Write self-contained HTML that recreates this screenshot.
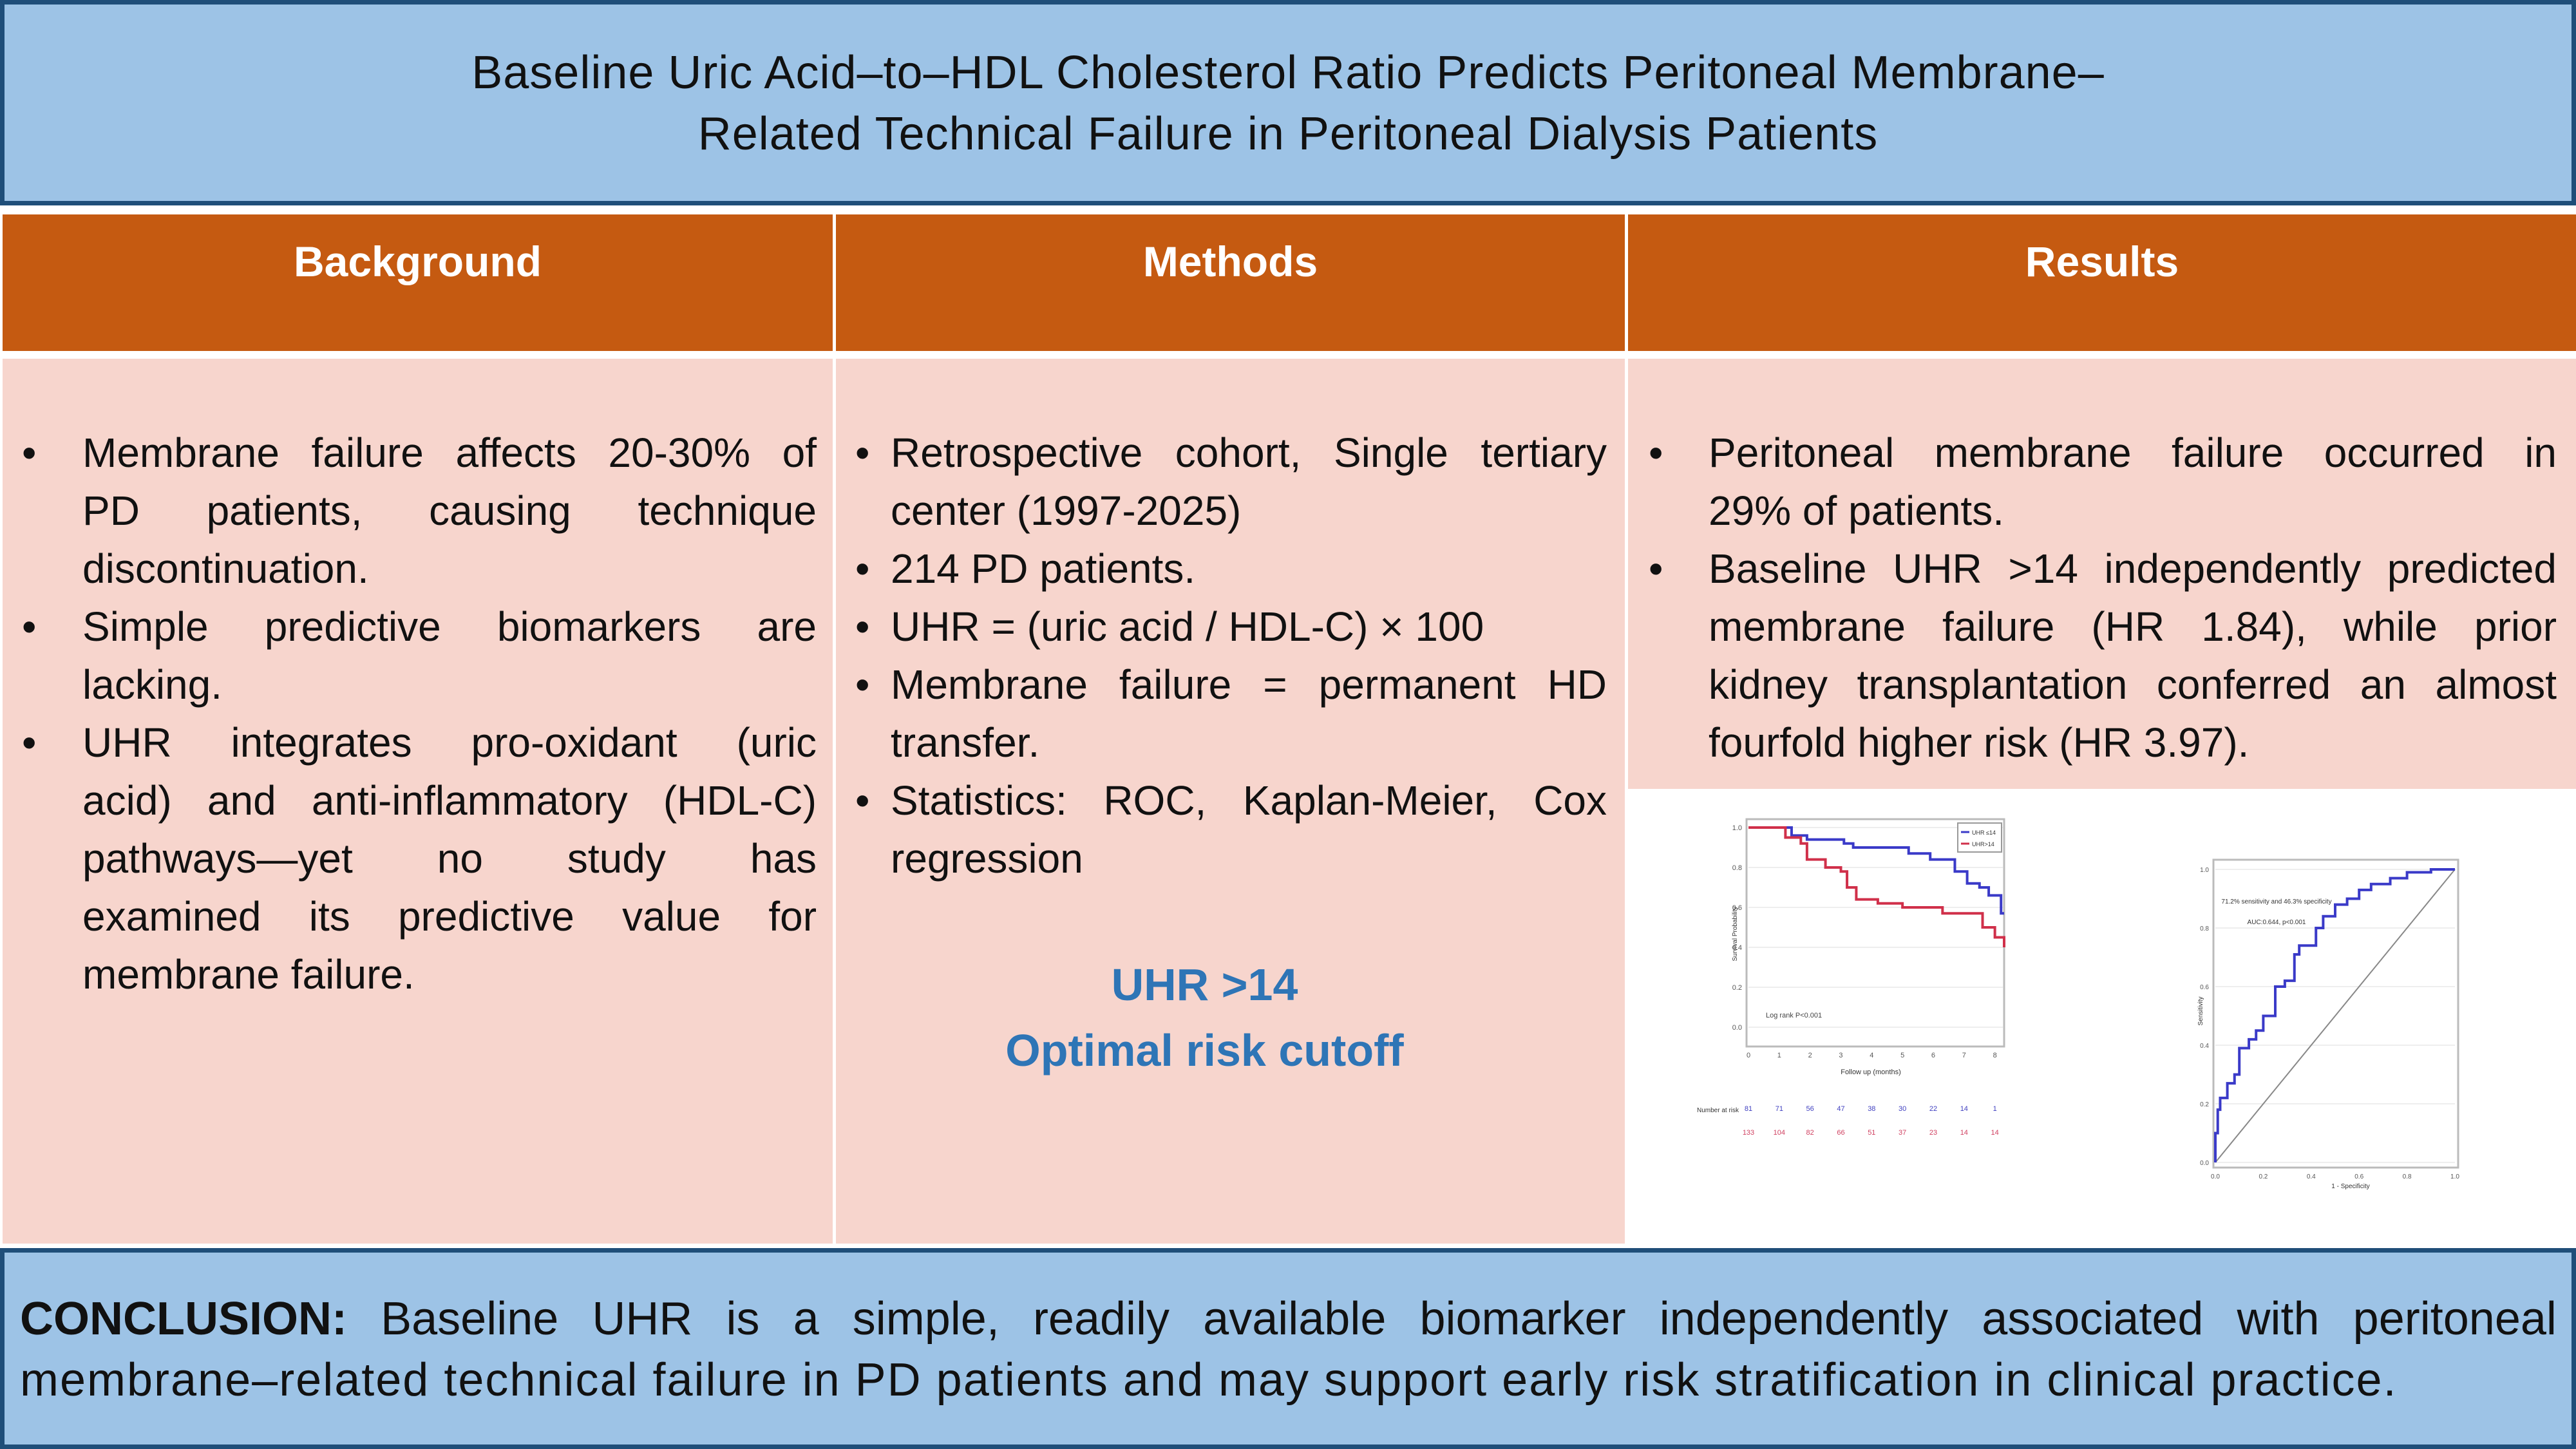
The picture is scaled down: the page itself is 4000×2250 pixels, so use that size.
<!DOCTYPE html>
<html><head><meta charset="utf-8">
<style>
*{margin:0;padding:0;box-sizing:border-box}
body{width:4000px;height:2250px;position:relative;background:#fff;font-family:"Liberation Sans",sans-serif;overflow:hidden;color:#111}
.abs{position:absolute}
.box{position:absolute;background:#9dc3e6;border:7px solid #1f4e79}
.hdr{position:absolute;top:333px;height:212px;background:#c55a11;color:#fff;font-weight:bold;font-size:66px;text-align:center;padding-top:35px}
.body{position:absolute;top:557px;background:#f7d5cd}
.line{position:absolute;font-size:64px;line-height:90px;white-space:nowrap}
.j{text-align:justify;text-align-last:justify;white-space:normal}
.bul{position:absolute;font-size:64px;line-height:90px}
</style></head><body>
<div class="box" style="left:0;top:0;width:4000px;height:319px"></div>
<div class="abs" style="left:0;top:66px;width:4000px;text-align:center;font-size:72px;line-height:95px;letter-spacing:1px">Baseline Uric Acid–to–HDL Cholesterol Ratio Predicts Peritoneal Membrane–<br>Related Technical Failure in Peritoneal Dialysis Patients</div>

<div class="hdr" style="left:4px;width:1289px">Background</div>
<div class="hdr" style="left:1298px;width:1225px">Methods</div>
<div class="hdr" style="left:2528px;width:1472px">Results</div>

<div class="body" style="left:4px;width:1289px;height:1374px"></div>
<div class="body" style="left:1298px;width:1225px;height:1374px"></div>
<div class="body" style="left:2528px;width:1472px;height:668px"></div>

<!-- Background -->
<div>
<div class="bul" style="left:34px;top:658px">•</div>
<div class="line j" style="left:128px;top:658px;width:1140px">Membrane failure affects 20-30% of</div>
<div class="line j" style="left:128px;top:748px;width:1140px">PD patients, causing technique</div>
<div class="line" style="left:128px;top:838px">discontinuation.</div>
<div class="bul" style="left:34px;top:928px">•</div>
<div class="line j" style="left:128px;top:928px;width:1140px">Simple predictive biomarkers are</div>
<div class="line" style="left:128px;top:1018px">lacking.</div>
<div class="bul" style="left:34px;top:1108px">•</div>
<div class="line j" style="left:128px;top:1108px;width:1140px">UHR integrates pro-oxidant (uric</div>
<div class="line j" style="left:128px;top:1198px;width:1140px">acid) and anti-inflammatory (HDL-C)</div>
<div class="line j" style="left:128px;top:1288px;width:1140px">pathways—yet no study has</div>
<div class="line j" style="left:128px;top:1378px;width:1140px">examined its predictive value for</div>
<div class="line" style="left:128px;top:1468px">membrane failure.</div>
</div>

<!-- Methods -->
<div>
<div class="bul" style="left:1328px;top:658px">•</div>
<div class="line j" style="left:1383px;top:658px;width:1112px">Retrospective cohort, Single tertiary</div>
<div class="line" style="left:1383px;top:748px">center (1997-2025)</div>
<div class="bul" style="left:1328px;top:838px">•</div>
<div class="line" style="left:1383px;top:838px">214 PD patients.</div>
<div class="bul" style="left:1328px;top:928px">•</div>
<div class="line" style="left:1383px;top:928px">UHR = (uric acid / HDL-C) × 100</div>
<div class="bul" style="left:1328px;top:1018px">•</div>
<div class="line j" style="left:1383px;top:1018px;width:1112px">Membrane failure = permanent HD</div>
<div class="line" style="left:1383px;top:1108px">transfer.</div>
<div class="bul" style="left:1328px;top:1198px">•</div>
<div class="line j" style="left:1383px;top:1198px;width:1112px">Statistics: ROC, Kaplan-Meier, Cox</div>
<div class="line" style="left:1383px;top:1288px">regression</div>
</div>
<div class="abs" style="left:1298px;top:1478px;width:1225px;text-align:center;color:#2e75b6;font-weight:bold;font-size:70px;line-height:102px;padding-right:80px">UHR &gt;14<br>Optimal risk cutoff</div>

<!-- Results -->
<div>
<div class="bul" style="left:2560px;top:658px">•</div>
<div class="line j" style="left:2653px;top:658px;width:1317px">Peritoneal membrane failure occurred in</div>
<div class="line" style="left:2653px;top:748px">29% of patients.</div>
<div class="bul" style="left:2560px;top:838px">•</div>
<div class="line j" style="left:2653px;top:838px;width:1317px">Baseline UHR &gt;14 independently predicted</div>
<div class="line j" style="left:2653px;top:928px;width:1317px">membrane failure (HR 1.84), while prior</div>
<div class="line j" style="left:2653px;top:1018px;width:1317px">kidney transplantation conferred an almost</div>
<div class="line" style="left:2653px;top:1108px">fourfold higher risk (HR 3.97).</div>
</div>

<svg id="charts" class="abs" style="left:0;top:0" width="4000" height="2250"></svg>

<div class="box" style="left:0;top:1938px;width:4000px;height:312px"></div>
<div class="abs" style="left:31px;top:2001px;width:3939px;font-size:72px;line-height:95px">
<div style="white-space:nowrap;display:flex;justify-content:space-between"><b>CONCLUSION:</b><span>Baseline</span><span>UHR</span><span>is</span><span>a</span><span>simple,</span><span>readily</span><span>available</span><span>biomarker</span><span>independently</span><span>associated</span><span>with</span><span>peritoneal</span></div>
<div style="white-space:nowrap;letter-spacing:2px">membrane–related technical failure in PD patients and may support early risk stratification in clinical practice.</div>
</div>

<script>
// Kaplan-Meier data (months, survival)
const kmBlueT=[0,1.4,1.9,3.1,3.4,5.2,5.9,6.7,7.1,7.5,7.8,8.2,8.3];
const kmBlueS=[1.0,0.96,0.94,0.92,0.90,0.87,0.84,0.78,0.72,0.70,0.66,0.57,0.57];
const kmRedT=[0,1.2,1.7,1.9,2.5,3.0,3.2,3.5,4.2,5.0,6.3,7.6,8.0,8.3];
const kmRedS=[1.0,0.95,0.92,0.84,0.80,0.78,0.70,0.64,0.62,0.60,0.57,0.50,0.45,0.40];
const kmTicks=[0,1,2,3,4,5,6,7,8];
const riskBlue=[81,71,56,47,38,30,22,14,1];
const riskRed=[133,104,82,66,51,37,23,14,14];
// ROC data (1-specificity, sensitivity)
const rocFpr=[0,0.01,0.02,0.05,0.08,0.10,0.14,0.17,0.20,0.25,0.29,0.33,0.35,0.42,0.45,0.50,0.55,0.60,0.65,0.73,0.80,0.90,1.0];
const rocTpr=[0,0.10,0.18,0.22,0.27,0.30,0.39,0.42,0.45,0.50,0.60,0.62,0.71,0.74,0.80,0.84,0.88,0.90,0.93,0.95,0.97,0.99,1.0];
const rocTicks=[0,0.2,0.4,0.6,0.8,1.0];

const svg=document.getElementById('charts');
const NS='http://www.w3.org/2000/svg';
function mk(tag,attrs,txt){const e=document.createElementNS(NS,tag);for(const k in attrs)e.setAttribute(k,attrs[k]);if(txt!==undefined)e.textContent=txt;svg.appendChild(e);return e;}

// KM axes
const kx=t=>2715+t/8.3*397, ky=s=>1285+(1-s)*310;
let fr=mk('rect',{x:2712,y:1272,width:400,height:353,fill:'none',stroke:'#bbb','stroke-width':3});


[1,0.8,0.6,0.4,0.2,0].forEach(v=>{let g=mk('line',{x1:2715,x2:3110,y1:ky(v),y2:ky(v),stroke:'#eee','stroke-width':2});
let t=mk('text',{x:2705,y:ky(v)+4,'font-size':11,'text-anchor':'end',fill:'#555'},v.toFixed(1));});
kmTicks.forEach((v,i)=>{let t=mk('text',{x:kx(v),y:1642,'font-size':11,'text-anchor':'middle',fill:'#555'},v);
let a=mk('text',{x:kx(v),y:1725,'font-size':11,'text-anchor':'middle',fill:'#4040c0'},riskBlue[i]);
let b=mk('text',{x:kx(v),y:1762,'font-size':11,'text-anchor':'middle',fill:'#d04060'},riskRed[i]);});
function step(T,S){let d='M'+kx(T[0])+','+ky(S[0]);for(let i=1;i<T.length;i++){d+=' H'+kx(T[i])+' V'+ky(S[i]);}return d;}
let pb=mk('path',{d:step(kmBlueT,kmBlueS),fill:'none',stroke:'#3a3ac8','stroke-width':4});


let pr=mk('path',{d:step(kmRedT,kmRedS),fill:'none',stroke:'#d0304a','stroke-width':4});


let lg=mk('rect',{x:3040,y:1278,width:68,height:45,fill:'#fff',stroke:'#999','stroke-width':2});


mk('line',{x1:3045,x2:3058,y1:1292,y2:1292,stroke:'#3a3ac8','stroke-width':3});
mk('line',{x1:3045,x2:3058,y1:1310,y2:1310,stroke:'#d0304a','stroke-width':3});
mk('text',{x:3062,y:1296,'font-size':9,fill:'#333'},'UHR ≤14');
mk('text',{x:3062,y:1314,'font-size':9,fill:'#333'},'UHR>14');
mk('text',{x:2742,y:1580,'font-size':11,fill:'#444'},'Log rank P<0.001');
mk('text',{x:2905,y:1668,'font-size':11,'text-anchor':'middle',fill:'#333'},'Follow up (months)');
mk('text',{x:2635,y:1727,'font-size':10,fill:'#333'},'Number at risk');
mk('text',{x:0,y:0,'font-size':10,fill:'#333',transform:'translate(2697,1450) rotate(-90)','text-anchor':'middle'},'Survival Probability');

// ROC
const rx=f=>3440+f*372, ry=s=>1805-s*455;
let rf=mk('rect',{x:3437,y:1335,width:380,height:478,fill:'none',stroke:'#bbb','stroke-width':3});


rocTicks.forEach(v=>{let g=mk('line',{x1:3440,x2:3812,y1:ry(v),y2:ry(v),stroke:'#eee','stroke-width':2});
let t=mk('text',{x:3430,y:ry(v)+4,'font-size':10,'text-anchor':'end',fill:'#555'},v.toFixed(1));
let u=mk('text',{x:rx(v),y:1830,'font-size':10,'text-anchor':'middle',fill:'#555'},v.toFixed(1));});
let dg=mk('line',{x1:rx(0),y1:ry(0),x2:rx(1),y2:ry(1),stroke:'#888','stroke-width':2});


let rd='M'+rx(rocFpr[0])+','+ry(rocTpr[0]);for(let i=1;i<rocFpr.length;i++){rd+=' V'+ry(rocTpr[i])+' H'+rx(rocFpr[i]);}
let rc=mk('path',{d:rd,fill:'none',stroke:'#3a3ac8','stroke-width':4});


mk('text',{x:3535,y:1403,'font-size':10,'text-anchor':'middle',fill:'#333'},'71.2% sensitivity and 46.3% specificity');
mk('text',{x:3535,y:1435,'font-size':10,'text-anchor':'middle',fill:'#333'},'AUC:0.644, p<0.001');
mk('text',{x:3650,y:1845,'font-size':10,'text-anchor':'middle',fill:'#333'},'1 - Specificity');
mk('text',{x:0,y:0,'font-size':10,fill:'#333',transform:'translate(3420,1570) rotate(-90)','text-anchor':'middle'},'Sensitivity');
</script>
</body></html>
